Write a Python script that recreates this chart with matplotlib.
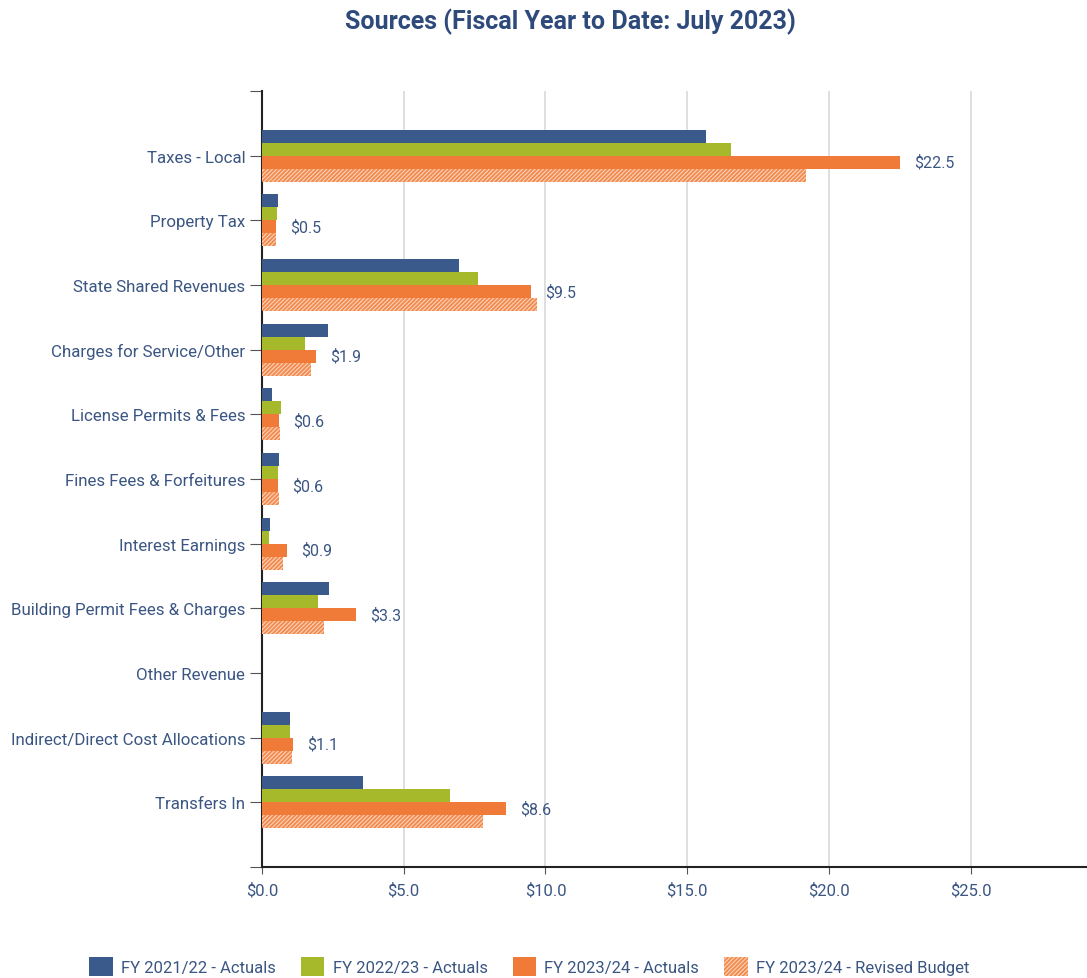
import matplotlib
matplotlib.use("Agg")
import matplotlib.pyplot as plt
import matplotlib.font_manager as fm
import numpy as np

names = {f.name for f in fm.fontManager.ttflist}
fam = ['Liberation Sans Narrow', 'Roboto', 'DejaVu Sans'] if 'Liberation Sans Narrow' in names else ['Roboto', 'DejaVu Sans']
plt.rcParams['font.family'] = fam
plt.rcParams['hatch.linewidth'] = 0.8

categories = ["Taxes - Local", "Property Tax", "State Shared Revenues", "Charges for Service/Other",
              "License Permits & Fees", "Fines Fees & Forfeitures", "Interest Earnings",
              "Building Permit Fees & Charges", "Other Revenue", "Indirect/Direct Cost Allocations",
              "Transfers In"]
fy2122 = [15.65, 0.56, 6.95, 2.33, 0.35, 0.6, 0.28, 2.36, 0.0, 0.99, 3.56]
fy2223 = [16.55, 0.53, 7.62, 1.52, 0.67, 0.56, 0.25, 1.98, 0.0, 0.99, 6.63]
fy2324 = [22.5, 0.5, 9.5, 1.9, 0.6, 0.55, 0.88, 3.3, 0.0, 1.08, 8.6]
budget = [19.2, 0.5, 9.7, 1.73, 0.64, 0.6, 0.74, 2.19, 0.0, 1.06, 7.8]
labels = ["$22.5", "$0.5", "$9.5", "$1.9", "$0.6", "$0.6", "$0.9", "$3.3", "", "$1.1", "$8.6"]
series_names = ["FY 2021/22 - Actuals", "FY 2022/23 - Actuals", "FY 2023/24 - Actuals", "FY 2023/24 - Revised Budget"]

c_blue = '#3a5a8c'
c_green = '#a6b92b'
c_orange = '#f07a38'
c_text = '#3b5683'

fig = plt.figure(figsize=(10.87, 9.79), dpi=100)
ax = fig.add_axes([0.241, 0.1134, 0.759, 0.7926])

y = np.arange(len(categories))
h = 0.2
offs = [-0.3, -0.1, 0.1, 0.3]
ax.barh(y + offs[0], fy2122, height=h, color=c_blue, label=series_names[0], zorder=3)
ax.barh(y + offs[1], fy2223, height=h, color=c_green, label=series_names[1], zorder=3)
ax.barh(y + offs[2], fy2324, height=h, color=c_orange, label=series_names[2], zorder=3)
ax.barh(y + offs[3], budget, height=h, facecolor='#f28a4e', edgecolor='#fbd3bb', hatch='////////',
        linewidth=0, label=series_names[3], zorder=3)

for yi, v, lab in zip(y, fy2324, labels):
    if lab:
        ax.text(v + 0.5, yi + offs[2], lab, va='center', ha='left', fontsize=11.5, color=c_text)

ax.set_ylim(11, -1)
ax.set_xlim(0, 29.1)
ax.set_yticks(list(y))
ax.set_yticklabels(categories, fontsize=12.2, color=c_text)
ax.set_yticks([-1, 11], minor=True)
ax.tick_params(axis='y', which='both', length=9, width=0.8, color='#555555', pad=3)
xt = [0, 5, 10, 15, 20, 25]
ax.set_xticks(xt)
ax.set_xticklabels([f"${v:.1f}" for v in xt], fontsize=12, color=c_text)
ax.tick_params(axis='x', length=5, width=0.8, color='#555555', pad=6)
ax.grid(axis='x', color='#d9d9d9', linewidth=1.2, zorder=0)
for s in ['top', 'right']:
    ax.spines[s].set_visible(False)
for s in ['left', 'bottom']:
    ax.spines[s].set_color('#222222')
    ax.spines[s].set_linewidth(1.5)

fig.text(0.525, 0.978, "Sources (Fiscal Year to Date: July 2023)", ha='center', va='center',
         fontsize=18, fontweight='bold', color='#2e4a7a')

leg = fig.legend(loc='center', bbox_to_anchor=(0.487, 0.012), ncol=4, frameon=False,
                 fontsize=12, handlelength=1.4, handleheight=1.4, columnspacing=1.5, handletextpad=0.5)
for t in leg.get_texts():
    t.set_color(c_text)

fig.savefig("out.png", dpi=100)
